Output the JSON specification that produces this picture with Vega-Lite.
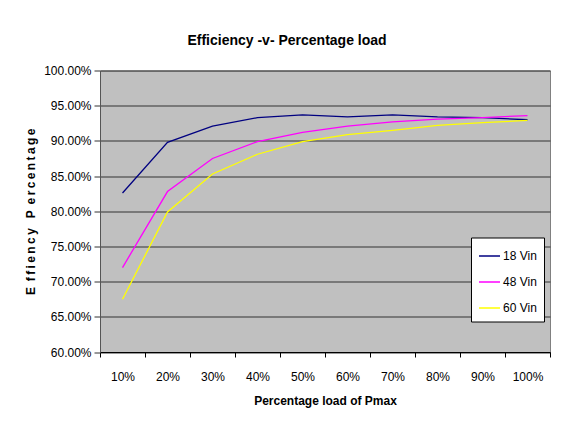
{
  "$schema": "https://vega.github.io/schema/vega-lite/v6.json",
  "width": 450,
  "height": 281.5,
  "autosize": {"type": "none"},
  "padding": {"left": 100, "top": 70.5, "right": 24, "bottom": 71},
  "background": "white",
  "title": {
    "text": "Efficiency -v- Percentage load",
    "fontSize": 14,
    "fontWeight": "bold",
    "font": "Liberation Sans",
    "color": "black",
    "anchor": "middle",
    "dx": -38,
    "offset": 17
  },
  "data": {
    "values": [
      {"load": "10%", "series": "18 Vin", "eff": 0.826},
      {"load": "20%", "series": "18 Vin", "eff": 0.898},
      {"load": "30%", "series": "18 Vin", "eff": 0.921},
      {"load": "40%", "series": "18 Vin", "eff": 0.933},
      {"load": "50%", "series": "18 Vin", "eff": 0.937},
      {"load": "60%", "series": "18 Vin", "eff": 0.934},
      {"load": "70%", "series": "18 Vin", "eff": 0.937},
      {"load": "80%", "series": "18 Vin", "eff": 0.934},
      {"load": "90%", "series": "18 Vin", "eff": 0.933},
      {"load": "100%", "series": "18 Vin", "eff": 0.930},
      {"load": "10%", "series": "48 Vin", "eff": 0.720},
      {"load": "20%", "series": "48 Vin", "eff": 0.828},
      {"load": "30%", "series": "48 Vin", "eff": 0.875},
      {"load": "40%", "series": "48 Vin", "eff": 0.899},
      {"load": "50%", "series": "48 Vin", "eff": 0.912},
      {"load": "60%", "series": "48 Vin", "eff": 0.921},
      {"load": "70%", "series": "48 Vin", "eff": 0.927},
      {"load": "80%", "series": "48 Vin", "eff": 0.931},
      {"load": "90%", "series": "48 Vin", "eff": 0.933},
      {"load": "100%", "series": "48 Vin", "eff": 0.936},
      {"load": "10%", "series": "60 Vin", "eff": 0.675},
      {"load": "20%", "series": "60 Vin", "eff": 0.799},
      {"load": "30%", "series": "60 Vin", "eff": 0.853},
      {"load": "40%", "series": "60 Vin", "eff": 0.881},
      {"load": "50%", "series": "60 Vin", "eff": 0.899},
      {"load": "60%", "series": "60 Vin", "eff": 0.909},
      {"load": "70%", "series": "60 Vin", "eff": 0.915},
      {"load": "80%", "series": "60 Vin", "eff": 0.922},
      {"load": "90%", "series": "60 Vin", "eff": 0.926},
      {"load": "100%", "series": "60 Vin", "eff": 0.929}
    ]
  },
  "mark": {"type": "line", "strokeWidth": 1.3},
  "encoding": {
    "x": {
      "field": "load",
      "type": "ordinal",
      "sort": ["10%", "20%", "30%", "40%", "50%", "60%", "70%", "80%", "90%", "100%"],
      "bandPosition": 0.5,
      "scale": {"type": "band", "paddingInner": 0, "paddingOuter": 0},
      "axis": {
        "title": "Percentage load of Pmax",
        "tickBand": "extent",
        "labelAngle": 0,
        "labelPadding": 14,
        "tickSize": 5,
        "tickColor": "black",
        "domainColor": "black",
        "labelFont": "Liberation Sans",
        "labelFontSize": 12,
        "labelColor": "black",
        "titleFont": "Liberation Sans",
        "titleFontSize": 12,
        "titleFontWeight": "bold",
        "titleColor": "black",
        "titlePadding": 13,
        "grid": false
      }
    },
    "y": {
      "field": "eff",
      "type": "quantitative",
      "scale": {"domain": [0.6, 1.0], "nice": false, "zero": false},
      "axis": {
        "title": "E\u2009 f\u2009f\u2009i\u2009e\u2009n\u2009c\u2009y\u00a0\u00a0\u00a0P\u2009 e\u2009r\u2009c\u2009e\u2009n\u2009t\u2009a\u2009g\u2009e",
        "values": [0.6, 0.65, 0.7, 0.75, 0.8, 0.85, 0.9, 0.95, 1.0],
        "format": ".2%",
        "grid": true,
        "gridColor": "#333333",
        "gridOpacity": 1,
        "tickSize": 6,
        "tickColor": "#333333",
        "domainColor": "#555555",
        "labelFont": "Liberation Sans",
        "labelFontSize": 12,
        "labelColor": "black",
        "labelPadding": 3,
        "titleFont": "Liberation Sans",
        "titleFontSize": 12,
        "titleFontWeight": "bold",
        "titleColor": "black",
        "titlePadding": 6
      }
    },
    "color": {
      "field": "series",
      "type": "nominal",
      "scale": {"domain": ["18 Vin", "48 Vin", "60 Vin"], "range": ["#000080", "#FF00FF", "#FFFF00"]},
      "legend": {
        "title": null,
        "orient": "none",
        "legendX": 371,
        "legendY": 167,
        "fillColor": "white",
        "strokeColor": "black",
        "padding": 7,
        "symbolType": "stroke",
        "symbolSize": 441,
        "symbolStrokeWidth": 1.5,
        "rowPadding": 8,
        "labelFont": "Liberation Sans",
        "labelFontSize": 12,
        "labelColor": "black",
        "labelOffset": 2
      }
    }
  },
  "config": {
    "view": {"fill": "#C0C0C0", "stroke": "#808080"}
  }
}
